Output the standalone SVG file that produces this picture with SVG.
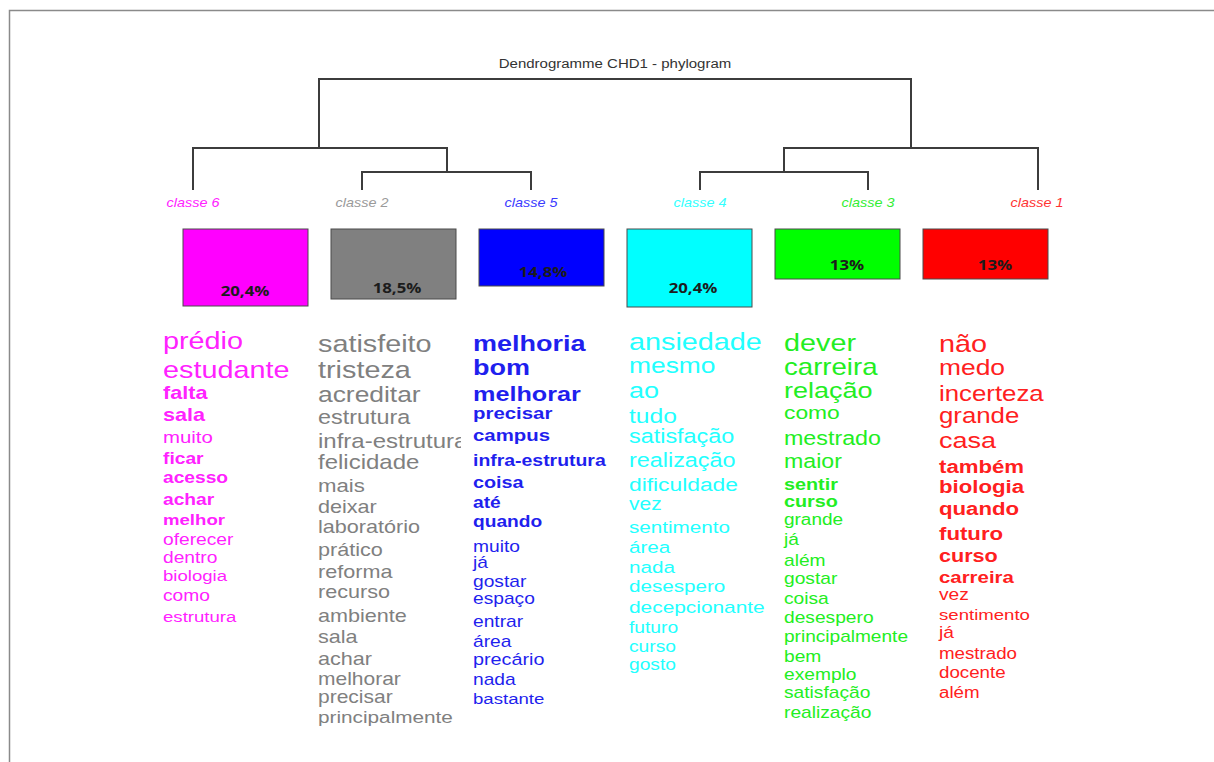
<svg xmlns="http://www.w3.org/2000/svg" width="1214" height="762" viewBox="0 0 1214 762">
<style>
text{font-family:"Liberation Sans",Arial,sans-serif}
.frame{stroke:#8a8a8a;stroke-width:1.5;fill:none}
.den{stroke:#3c3c3c;stroke-width:2;fill:none}
.lab{font-size:12px;font-style:italic;text-anchor:middle}
.box{stroke:#4a4a4a;stroke-width:1}
.pct{font-family:"Open Sans","Liberation Sans",sans-serif;font-weight:700;font-size:15px;text-anchor:middle;fill:#1c1c1c}
.b{font-weight:700}
.c6{fill:#ff22ff}.c2{fill:#808080}.c5{fill:#1f1fee}.c4{fill:#22ffff}.c3{fill:#22ee22}.c1{fill:#ff2020}
</style>
<defs><clipPath id="clip2"><rect x="310" y="320" width="151" height="420"/></clipPath></defs>
<rect x="0" y="0" width="1214" height="762" fill="#fff"/>
<path class="frame" d="M9.5,762 V10.5 H1214"/>
<g id="title"><text transform="translate(615 68) scale(1.25 1)" x="0" y="0" font-size="12" text-anchor="middle" fill="#333">Dendrogramme CHD1 - phylogram</text></g>
<g id="connectors">
<path class="den" d="M319,148 V79 H911 V148"/>
<path class="den" d="M193,190 V148 H447 V172"/>
<path class="den" d="M362,190 V172 H531 V190"/>
<path class="den" d="M700,190 V172 H868 V190"/>
<path class="den" d="M784,172 V148 H1038 V190"/>
</g>
<g id="classe6">
<text class="lab c6" transform="translate(193 207) scale(1.2 1)">classe  6</text>
<rect class="box" x="183" y="229" width="125" height="77" fill="#ff00ff"/>
<text class="pct" transform="translate(245 296) scale(1.12 1)">20,4%</text>
<g class="c6" transform="translate(163 0) scale(1.2 1)">
<text y="349" font-size="24">prédio</text>
<text y="378" font-size="24">estudante</text>
<text y="399" font-size="18" class="b">falta</text>
<text y="421" font-size="18" class="b">sala</text>
<text y="443" font-size="17">muito</text>
<text y="464" font-size="16" class="b">ficar</text>
<text y="483" font-size="16" class="b">acesso</text>
<text y="505" font-size="16" class="b">achar</text>
<text y="525" font-size="15.5" class="b">melhor</text>
<text y="545" font-size="16">oferecer</text>
<text y="563" font-size="16">dentro</text>
<text y="581" font-size="15.5">biologia</text>
<text y="601" font-size="16">como</text>
<text y="622" font-size="15.5">estrutura</text>
</g>
</g>
<g id="classe2">
<text class="lab" fill="#9a9a9a" transform="translate(362 207) scale(1.2 1)">classe  2</text>
<rect class="box" x="331" y="229" width="125" height="70" fill="#808080"/>
<text class="pct" fill="#2a2a2a" transform="translate(397 293) scale(1.12 1)">18,5%</text>
<g clip-path="url(#clip2)">
<g class="c2" transform="translate(318 0) scale(1.2 1)">
<text y="352" font-size="24">satisfeito</text>
<text y="378" font-size="24">tristeza</text>
<text y="402" font-size="22">acreditar</text>
<text y="424" font-size="19.5">estrutura</text>
<text y="448" font-size="20">infra-estrutura</text>
<text y="469" font-size="20">felicidade</text>
<text y="492" font-size="18.5">mais</text>
<text y="513" font-size="18">deixar</text>
<text y="533" font-size="18">laboratório</text>
<text y="556" font-size="18">prático</text>
<text y="578" font-size="18">reforma</text>
<text y="598" font-size="18">recurso</text>
<text y="622" font-size="18">ambiente</text>
<text y="643" font-size="18">sala</text>
<text y="665" font-size="18">achar</text>
<text y="685" font-size="17.5">melhorar</text>
<text y="703" font-size="17.5">precisar</text>
<text y="723" font-size="17.3">principalmente</text>
</g>
</g>
</g>
<g id="classe5">
<text class="lab" fill="#3b3bff" transform="translate(531 207) scale(1.2 1)">classe  5</text>
<rect class="box" x="479" y="229" width="125" height="57" fill="#0000ff"/>
<text class="pct" fill="#e4e4ff" transform="translate(543 277) scale(1.12 1)">14,8%</text>
<g class="c5" transform="translate(473 0) scale(1.2 1)">
<text y="351" font-size="22.5" class="b">melhoria</text>
<text y="375" font-size="22.5" class="b">bom</text>
<text y="401" font-size="21" class="b">melhorar</text>
<text y="419" font-size="17" class="b">precisar</text>
<text y="441" font-size="17" class="b">campus</text>
<text y="466" font-size="16.2" class="b">infra-estrutura</text>
<text y="488" font-size="16.5" class="b">coisa</text>
<text y="508" font-size="16" class="b">até</text>
<text y="527" font-size="16" class="b">quando</text>
<text y="552" font-size="16">muito</text>
<text y="568" font-size="16">já</text>
<text y="587" font-size="16">gostar</text>
<text y="604" font-size="16">espaço</text>
<text y="627" font-size="16">entrar</text>
<text y="647" font-size="16">área</text>
<text y="665" font-size="16.5">precário</text>
<text y="685" font-size="16">nada</text>
<text y="704" font-size="15.5">bastante</text>
</g>
</g>
<g id="classe4">
<text class="lab" fill="#33ffff" transform="translate(700 207) scale(1.2 1)">classe  4</text>
<rect class="box" x="627" y="229" width="125" height="78" fill="#00ffff"/>
<text class="pct" transform="translate(693 293) scale(1.12 1)">20,4%</text>
<g class="c4" transform="translate(629 0) scale(1.2 1)">
<text y="350" font-size="24">ansiedade</text>
<text y="373" font-size="22">mesmo</text>
<text y="398" font-size="22.5">ao</text>
<text y="423" font-size="20.5">tudo</text>
<text y="443" font-size="19.5">satisfação</text>
<text y="467" font-size="19.5">realização</text>
<text y="491" font-size="19">dificuldade</text>
<text y="510" font-size="17.5">vez</text>
<text y="533" font-size="17.2">sentimento</text>
<text y="553" font-size="17.2">área</text>
<text y="573" font-size="17.2">nada</text>
<text y="592" font-size="17.2">desespero</text>
<text y="613" font-size="17.4">decepcionante</text>
<text y="633" font-size="16">futuro</text>
<text y="652" font-size="16">curso</text>
<text y="670" font-size="16">gosto</text>
</g>
</g>
<g id="classe3">
<text class="lab" fill="#33ee33" transform="translate(868 207) scale(1.2 1)">classe  3</text>
<rect class="box" x="775" y="229" width="125" height="50" fill="#00ff00"/>
<text class="pct" transform="translate(847 270) scale(1.12 1)">13%</text>
<g class="c3" transform="translate(784 0) scale(1.2 1)">
<text y="351" font-size="24">dever</text>
<text y="375" font-size="23">carreira</text>
<text y="398" font-size="22.5">relação</text>
<text y="419" font-size="19">como</text>
<text y="445" font-size="19.4">mestrado</text>
<text y="468" font-size="19.3">maior</text>
<text y="490" font-size="16.5" class="b">sentir</text>
<text y="507" font-size="16.5" class="b">curso</text>
<text y="525" font-size="15.8">grande</text>
<text y="545" font-size="16">já</text>
<text y="566" font-size="16">além</text>
<text y="584" font-size="16">gostar</text>
<text y="604" font-size="16">coisa</text>
<text y="623" font-size="16">desespero</text>
<text y="642" font-size="15.9">principalmente</text>
<text y="662" font-size="16">bem</text>
<text y="680" font-size="16">exemplo</text>
<text y="698" font-size="16">satisfação</text>
<text y="718" font-size="16">realização</text>
</g>
</g>
<g id="classe1">
<text class="lab" fill="#ff3333" transform="translate(1037 207) scale(1.2 1)">classe  1</text>
<rect class="box" x="923" y="229" width="125" height="50" fill="#ff0000"/>
<text class="pct" transform="translate(995 270) scale(1.12 1)">13%</text>
<g class="c1" transform="translate(939 0) scale(1.2 1)">
<text y="352" font-size="24">não</text>
<text y="375" font-size="22">medo</text>
<text y="401" font-size="21.5">incerteza</text>
<text y="423" font-size="21.5">grande</text>
<text y="448" font-size="22.5">casa</text>
<text y="473" font-size="18.5" class="b">também</text>
<text y="493" font-size="18.5" class="b">biologia</text>
<text y="515" font-size="18.5" class="b">quando</text>
<text y="540" font-size="18.5" class="b">futuro</text>
<text y="562" font-size="18" class="b">curso</text>
<text y="583" font-size="17" class="b">carreira</text>
<text y="600" font-size="16">vez</text>
<text y="620" font-size="15.5">sentimento</text>
<text y="638" font-size="16">já</text>
<text y="659" font-size="15.6">mestrado</text>
<text y="678" font-size="15.6">docente</text>
<text y="698" font-size="15.6">além</text>
</g>
</g>
</svg>
